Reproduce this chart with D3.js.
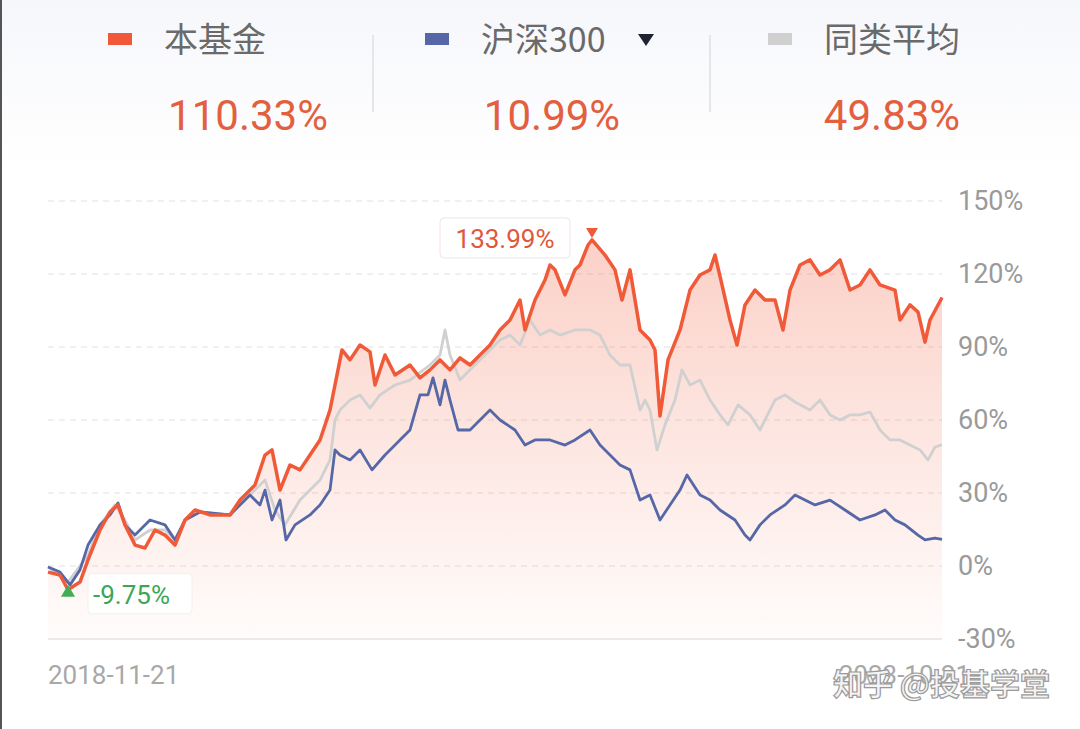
<!DOCTYPE html>
<html><head><meta charset="utf-8">
<script src="https://cdn.jsdelivr.net/npm/d3@7"></script>
<style>body{margin:0;background:#fff;}svg{display:block;font-family:"Noto Sans CJK SC","Noto Sans",sans-serif;}</style>
</head><body>
<svg id="c" width="1080" height="729"></svg>
<script>
const startDate = "2018-11-21", endDate = "2023-10-21";
const legendNames = ["本基金","沪深300","同类平均"];
const legendValues = ["110.33%","10.99%","49.83%"];
const yTicks = [-30,0,30,60,90,120,150];
// [days since start, cumulative return %]
const fund = [[0,-2.5],[24,-3.7],[40,-9.75],[64,-6.6],[80,2.5],[104,14.8],[124,22.2],[140,25.1],[154,16.9],[174,8.6],[194,7.4],[214,14.8],[234,12.7],[254,8.6],[274,18.9],[294,23.0],[324,21.0],[364,21.0],[384,27.1],[414,33.3],[434,45.6],[448,47.7],[464,31.2],[484,41.5],[504,39.5],[524,45.6],[544,51.8],[564,64.1],[580,80.6],[588,88.8],[604,84.7],[624,90.8],[644,88.0],[654,74.4],[674,86.7],[694,78.5],[724,82.6],[744,77.3],[764,80.6],[784,84.7],[804,80.6],[824,85.5],[844,82.6],[864,86.7],[884,90.8],[904,97.0],[924,101.1],[944,109.3],[954,97.0],[974,109.3],[994,117.5],[1004,123.7],[1014,121.7],[1034,111.4],[1054,121.7],[1064,123.7],[1080,131.9],[1088,133.99],[1114,127.8],[1134,121.7],[1148,109.3],[1164,121.7],[1184,97.0],[1204,92.9],[1214,88.8],[1224,61.6],[1240,84.7],[1264,97.0],[1284,113.4],[1304,119.6],[1324,121.7],[1334,127.8],[1348,115.5],[1364,101.1],[1378,90.8],[1394,107.3],[1414,113.4],[1434,109.3],[1454,109.3],[1470,97.0],[1484,113.4],[1504,123.7],[1524,125.8],[1544,119.6],[1564,121.7],[1584,125.8],[1604,113.4],[1624,115.5],[1644,121.7],[1664,115.5],[1694,113.4],[1704,101.1],[1724,107.3],[1740,104.4],[1754,92.0],[1764,101.1],[1788,110.33]];
const hs300 = [[0,-0.4],[24,-2.5],[44,-7.8],[64,-1.6],[80,8.6],[104,16.9],[124,21.0],[140,25.9],[154,16.9],[174,12.7],[204,18.9],[234,16.9],[254,10.7],[274,18.9],[304,22.2],[364,21.0],[404,29.2],[424,25.1],[434,31.2],[448,18.9],[464,27.1],[476,10.7],[494,16.9],[524,21.0],[544,25.1],[564,31.2],[574,47.7],[584,45.6],[604,43.6],[624,47.7],[648,39.5],[674,45.6],[704,51.8],[724,55.9],[744,70.3],[760,70.3],[770,77.3],[784,66.2],[794,76.4],[804,68.2],[820,55.9],[844,55.9],[864,60.0],[884,64.1],[904,60.0],[934,55.9],[954,49.7],[974,51.8],[1004,51.8],[1034,49.7],[1054,51.8],[1084,55.9],[1104,49.7],[1124,45.6],[1144,41.5],[1164,39.5],[1184,27.1],[1204,29.2],[1224,18.9],[1244,25.1],[1264,31.2],[1278,37.4],[1304,29.2],[1324,27.1],[1344,23.0],[1374,18.9],[1394,12.7],[1404,10.7],[1424,16.9],[1444,21.0],[1474,25.1],[1494,29.2],[1514,27.1],[1534,25.1],[1564,27.1],[1594,23.0],[1624,18.9],[1654,21.0],[1674,23.0],[1694,18.9],[1714,16.9],[1740,12.7],[1754,10.7],[1774,11.5],[1788,10.99]];
const peers = [[0,-0.4],[40,-6.6],[80,4.5],[104,16.9],[134,25.1],[154,18.9],[174,10.7],[204,14.8],[234,14.8],[254,10.7],[274,18.9],[304,22.2],[364,21.0],[414,31.2],[434,35.3],[454,23.0],[474,16.9],[504,27.1],[544,35.3],[564,43.6],[574,60.0],[584,64.1],[604,68.2],[624,70.3],[644,64.9],[664,70.3],[694,74.4],[724,76.4],[764,82.6],[784,86.7],[794,97.0],[804,86.7],[824,76.4],[844,80.6],[884,88.8],[904,92.9],[924,94.9],[944,90.8],[964,101.1],[984,94.9],[1004,97.0],[1024,94.9],[1054,97.0],[1084,97.0],[1104,94.9],[1124,86.7],[1144,82.6],[1164,82.6],[1184,64.1],[1194,68.2],[1204,64.1],[1218,47.7],[1234,58.0],[1254,68.2],[1268,80.6],[1284,74.4],[1304,76.4],[1324,68.2],[1344,62.1],[1360,58.0],[1380,66.2],[1404,62.1],[1424,55.9],[1454,68.2],[1474,70.3],[1494,67.4],[1524,64.1],[1544,68.2],[1564,62.1],[1584,60.0],[1604,62.1],[1624,62.1],[1644,63.3],[1664,55.9],[1684,51.8],[1704,51.8],[1724,49.7],[1744,47.7],[1760,43.6],[1774,48.9],[1788,49.83]];
const maxLabel = "133.99%", minLabel = "-9.75%";

const colors = ["#f05a38","#5567a6","#d0d0d0"];
const svg = d3.select("#c");
const defs = svg.append("defs");
const hg = defs.append("linearGradient").attr("id","hg").attr("x1",0).attr("x2",0).attr("y1",0).attr("y2",1);
hg.append("stop").attr("offset","0%").attr("stop-color","#f6f7fb");
hg.append("stop").attr("offset","100%").attr("stop-color","#ffffff");
svg.append("rect").attr("x",0).attr("y",0).attr("width",1080).attr("height",170).attr("fill","url(#hg)");
svg.append("line").attr("x1",1).attr("x2",1).attr("y1",0).attr("y2",729).attr("stroke","#555").attr("stroke-width",2);

const t0 = d3.timeParse("%Y-%m-%d")(startDate);
const toDate = d => d3.timeDay.offset(t0, d);
const x = d3.scaleTime().domain([t0, toDate(1788)]).range([48, 942]);
const y = d3.scaleLinear().domain([-30,150]).range([639, 201]);

yTicks.forEach(v => {
  svg.append("line").attr("x1",48).attr("x2",942).attr("y1",y(v)).attr("y2",y(v))
    .attr("stroke", v===-30 ? "#e4e4e4" : "#ececec").attr("stroke-width",1.5)
    .attr("stroke-dasharray", v===-30 ? null : "6,5");
});
const ax = d3.axisRight(y).tickValues(yTicks).tickFormat(d => d + "%").tickSize(0).tickPadding(0);
const gA = svg.append("g").attr("transform","translate(958,0)").call(ax);
gA.select(".domain").remove();
gA.selectAll("text").attr("fill","#9a9a9a").style("font-size","27px").style("font-family","Roboto,'Noto Sans',sans-serif");

const ag = defs.append("linearGradient").attr("id","ag").attr("gradientUnits","userSpaceOnUse").attr("x1",0).attr("x2",0).attr("y1",230).attr("y2",639);
ag.append("stop").attr("offset","0%").attr("stop-color","#f36a4c").attr("stop-opacity",0.32);
ag.append("stop").attr("offset","100%").attr("stop-color","#f36a4c").attr("stop-opacity",0.02);
svg.append("path").datum(fund).attr("fill","url(#ag)")
  .attr("d", d3.area().x(d=>x(toDate(d[0]))).y0(y(-30)).y1(d=>y(d[1])));

const line = d3.line().x(d=>x(toDate(d[0]))).y(d=>y(d[1]));
[[peers,colors[2],2.8],[hs300,colors[1],2.8],[fund,colors[0],3.5]].forEach(([data,c,w])=>{
  svg.append("path").datum(data).attr("fill","none").attr("stroke",c)
    .attr("stroke-width", w).attr("stroke-linejoin","round").attr("d",line);
});

const mx = fund.reduce((a,b)=>b[1]>a[1]?b:a);
const mn = fund.reduce((a,b)=>b[1]<a[1]?b:a);
const mxX = x(toDate(mx[0])), mxY = y(mx[1]);
svg.append("path").attr("d",`M${mxX-6},${mxY-12}L${mxX+6},${mxY-12}L${mxX},${mxY-2}Z`).attr("fill",colors[0]);
svg.append("rect").attr("x",mxX-152).attr("y",mxY-22).attr("width",130).attr("height",40).attr("rx",4)
  .attr("fill","#fff").attr("stroke","#f1e4e0");
svg.append("text").attr("x",mxX-87).attr("y",mxY+8).attr("text-anchor","middle").attr("fill","#e0583a")
  .style("font-size","26px").style("font-family","Roboto,sans-serif").text(maxLabel);
const mnX = x(toDate(mn[0])), mnY = y(mn[1]);
svg.append("path").attr("d",`M${mnX-7},${mnY+7}L${mnX+7},${mnY+7}L${mnX},${mnY-5}Z`).attr("fill","#3fae55");
svg.append("rect").attr("x",mnX+20).attr("y",mnY-16).attr("width",104).attr("height",40).attr("rx",4)
  .attr("fill","#fff").attr("stroke","#eef2ee");
svg.append("text").attr("x",mnX+25).attr("y",mnY+14).attr("fill","#3aa757")
  .style("font-size","26px").style("font-family","Roboto,sans-serif").text(minLabel);

svg.append("text").attr("x",48).attr("y",684).attr("fill","#a8a8a8").style("font-size","26px").style("font-family","Roboto,sans-serif").text(startDate);
svg.append("text").attr("x",970).attr("y",684).attr("text-anchor","end").attr("fill","#a8a8a8").style("font-size","26px").style("font-family","Roboto,sans-serif").text(endDate);
svg.append("text").attr("x",1050).attr("y",695).attr("text-anchor","end").attr("fill","#f4f4f4").attr("stroke","#9a9a9a").attr("stroke-width",1.2)
  .style("font-size","30px").style("font-weight","bold").text("知乎 @投基学堂");

const lx = [108, 425, 768], vx = [248, 552, 892];
legendNames.forEach((n,i)=>{
  svg.append("rect").attr("x",lx[i]).attr("y",33).attr("width",24).attr("height",12).attr("fill",colors[i]);
  svg.append("text").attr("x",lx[i]+56).attr("y",52).attr("fill","#6a6a6a").style("font-size","34px").text(n);
  svg.append("text").attr("x",vx[i]).attr("y",130).attr("text-anchor","middle").attr("fill","#e3603f")
    .style("font-size","42px").style("font-family","Roboto,sans-serif").text(legendValues[i]);
});
svg.append("path").attr("d","M638,34L654,34L646,46Z").attr("fill","#1e2233");
[373,710].forEach(sx=>svg.append("line").attr("x1",sx).attr("x2",sx).attr("y1",35).attr("y2",112).attr("stroke","#e6e6ea").attr("stroke-width",2));
</script>
</body></html>
